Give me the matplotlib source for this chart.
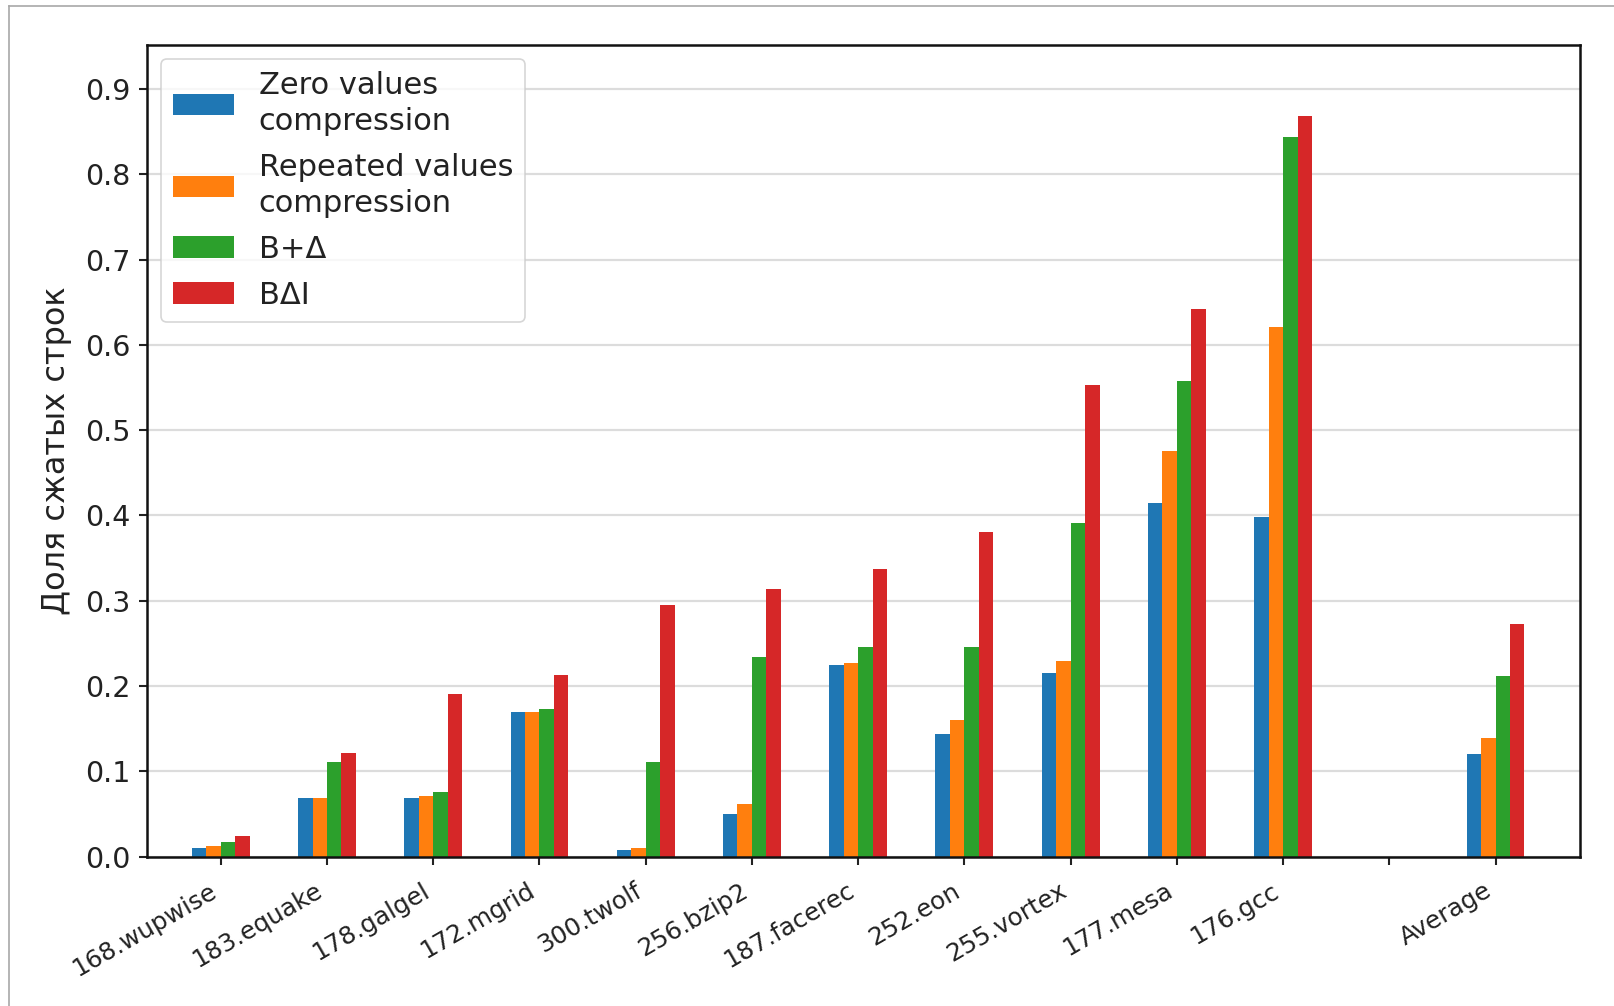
import matplotlib
matplotlib.use("Agg")
import matplotlib.pyplot as plt
from matplotlib.lines import Line2D
import numpy as np

benchmarks = ["168.wupwise", "183.equake", "178.galgel", "172.mgrid", "300.twolf",
              "256.bzip2", "187.facerec", "252.eon", "255.vortex", "177.mesa",
              "176.gcc", "", "Average"]

zero_vals = [0.010, 0.069, 0.069, 0.170, 0.008, 0.050, 0.225, 0.144, 0.215, 0.414, 0.398, 0.0, 0.120]
repeat_vals = [0.012, 0.069, 0.071, 0.170, 0.010, 0.062, 0.227, 0.160, 0.229, 0.475, 0.621, 0.0, 0.139]
bdelta_vals = [0.017, 0.111, 0.076, 0.173, 0.111, 0.234, 0.246, 0.246, 0.391, 0.558, 0.844, 0.0, 0.212]
bdi_vals = [0.024, 0.121, 0.191, 0.213, 0.295, 0.314, 0.337, 0.380, 0.553, 0.642, 0.868, 0.0, 0.273]

series = [
    ("Zero values\ncompression", zero_vals, "#1f77b4"),
    ("Repeated values\ncompression", repeat_vals, "#ff7f0e"),
    ("B+Δ", bdelta_vals, "#2ca02c"),
    ("BΔI", bdi_vals, "#d62728"),
]

W, H, DPI = 1614, 1006, 100
fig = plt.figure(figsize=(W / DPI, H / DPI), dpi=DPI)
fig.patch.set_facecolor("white")

ax = fig.add_axes([147 / W, 1 - 856.5 / H, (1579.5 - 147) / W, (856.5 - 45.5) / H])

x = np.arange(len(benchmarks))
bw = 0.136
for i, (label, vals, color) in enumerate(series):
    ax.bar(x + (i - 1.5) * bw, vals, width=bw, color=color, label=label, zorder=2)

ax.set_xlim(-0.694, 12.79)
ax.set_ylim(0, 0.951)
ax.set_yticks(np.arange(0, 0.91, 0.1))
ax.set_yticklabels([f"{v:.1f}" for v in np.arange(0, 0.91, 0.1)])
ax.set_xticks(x)
ax.set_xticklabels(benchmarks, rotation=30, ha="right")

ax.tick_params(axis="both", length=6, width=1.5, colors="#222222")
ax.tick_params(axis="y", labelsize=20.5, pad=6)
ax.tick_params(axis="x", labelsize=17.8, pad=10)
ax.yaxis.grid(True, color="#dcdcdc", linewidth=1.6, zorder=0)
ax.set_axisbelow(True)
for sp in ax.spines.values():
    sp.set_linewidth(1.8)
    sp.set_color("#111111")

ax.set_ylabel("Доля сжатых строк", fontsize=23, color="#222222", labelpad=9)

leg = ax.legend(loc="upper left", fontsize=22, frameon=True, fancybox=True,
                borderaxespad=0.45, handlelength=2.0, labelspacing=0.55)
leg.get_frame().set_edgecolor("#cccccc")
leg.get_frame().set_linewidth(1.2)
for t in leg.get_texts():
    t.set_color("#222222")
    t.set_linespacing(1.3)

# thin outer frame along the top and left edges
fig.add_artist(Line2D([9 / W, 9 / W], [0, 1 - 6 / H], transform=fig.transFigure,
                      color="#a8a8a8", linewidth=1.2))
fig.add_artist(Line2D([9 / W, 1], [1 - 6 / H, 1 - 6 / H], transform=fig.transFigure,
                      color="#a8a8a8", linewidth=1.2))

fig.savefig("out.png", dpi=DPI, facecolor="white")
